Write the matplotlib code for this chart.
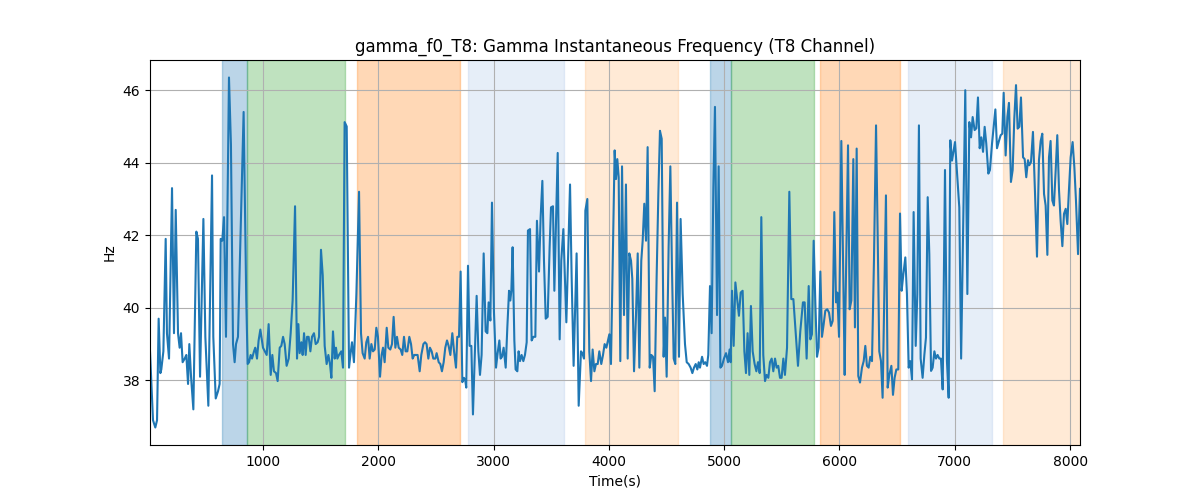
import matplotlib
matplotlib.use("Agg")
import matplotlib.pyplot as plt

# time (s) and gamma instantaneous frequency (Hz)
time_s = [
    20, 46, 66, 81, 95, 110, 118, 136, 156, 167, 185, 211, 228, 243, 263, 277, 289, 303, 321, 335,
    350, 361, 376, 396, 422, 436, 454, 483, 500, 526, 558, 569, 590, 610, 624, 633, 647, 662, 679, 705,
    722, 740, 754, 766, 783, 832, 855, 867, 879, 893, 905, 922, 933, 948, 962, 977, 1000,
    1032, 1049, 1067, 1081, 1095, 1113, 1127, 1145, 1159, 1174, 1188, 1205, 1223, 1240, 1257, 1278, 1295, 1307, 1318, 1333,
    1344, 1356, 1370, 1382, 1396, 1411, 1425, 1442, 1457, 1474, 1486, 1503, 1518, 1535, 1552, 1567, 1581, 1593, 1607, 1622,
    1633, 1645, 1659, 1679, 1694, 1708, 1726, 1746, 1760, 1772, 1789, 1810, 1833, 1850, 1864, 1882, 1896, 1911, 1925, 1940,
    1954, 1969, 1983, 1997, 2015,
    2029, 2041, 2055, 2073, 2087, 2104, 2119, 2133, 2148, 2162, 2177, 2194, 2208, 2223, 2237, 2252, 2269, 2284, 2298, 2312,
    2327, 2341, 2359, 2373, 2391, 2405, 2419, 2434, 2448, 2463, 2477, 2495, 2506, 2524, 2538, 2552, 2567, 2581, 2596, 2610,
    2625, 2642, 2657, 2674, 2685, 2700, 2714, 2729, 2743, 2755, 2763, 2778, 2792, 2807, 2821, 2836, 2853, 2868, 2882, 2896,
    2914, 2931, 2946, 2957, 2972, 2986, 3003, 3021,
    3035, 3050, 3061, 3073, 3087, 3105, 3119, 3134, 3145, 3154, 3165, 3180, 3191, 3206, 3217, 3229, 3243, 3258, 3272, 3287,
    3298, 3316, 3330, 3345, 3362, 3376, 3394, 3408, 3423, 3437, 3452, 3469, 3486, 3498, 3515, 3527, 3556, 3573, 3587, 3605,
    3631, 3663, 3677, 3694, 3720, 3738, 3758, 3770, 3784, 3796, 3813, 3830, 3845, 3859, 3874, 3888, 3903, 3917, 3934, 3949,
    3963, 3978, 3992, 4004, 4018,
    4050, 4062, 4073, 4085, 4099, 4114, 4131, 4148, 4163, 4177, 4192, 4203, 4218, 4235, 4250, 4264, 4281, 4293, 4307, 4322,
    4336, 4354, 4368, 4383, 4397, 4414, 4429, 4443, 4458, 4475, 4487, 4501, 4518, 4533, 4547, 4562, 4576, 4591, 4608, 4622,
    4640, 4660, 4675, 4692, 4709, 4724, 4738, 4753, 4767, 4779, 4790, 4808, 4822, 4836, 4851, 4862, 4877, 4891, 4906, 4920,
    4938, 4952, 4967, 4981, 4998, 5016, 5033, 5047, 5056,
    5068, 5082, 5097, 5114, 5128, 5143, 5160, 5175, 5189, 5203, 5218, 5232, 5247, 5264, 5279, 5293, 5308, 5322, 5339, 5354,
    5368, 5383, 5397, 5412, 5426, 5441, 5455, 5469, 5484, 5498, 5513, 5527, 5545, 5565, 5582, 5600, 5617, 5640, 5660, 5683,
    5698, 5715, 5733, 5747, 5761, 5776, 5790, 5805, 5819, 5834, 5848, 5863, 5877, 5894, 5909, 5926, 5941, 5955, 5970, 5981,
    5996, 6016, 6030, 6045,
    6051, 6074, 6088, 6103, 6120, 6134, 6149, 6163, 6178, 6195, 6210, 6224, 6238, 6253, 6267, 6282, 6299, 6317, 6331, 6345,
    6360, 6374, 6389, 6403, 6418, 6432, 6450, 6464, 6478, 6493, 6510, 6525, 6539, 6554, 6571, 6585, 6600, 6614, 6629, 6643,
    6661, 6675, 6689, 6704, 6721, 6736, 6750, 6765, 6779, 6794, 6808, 6823, 6837, 6851, 6866, 6880, 6895, 6915, 6932, 6947,
    6961, 6976, 7002, 7022, 7039, 7055,
    7091, 7109, 7126, 7141, 7155, 7172, 7187, 7201, 7216, 7230, 7245, 7259, 7273, 7291, 7305, 7323, 7352, 7366, 7383, 7398,
    7412, 7424, 7441, 7456, 7470, 7487, 7502, 7516, 7531, 7545, 7560, 7574, 7592, 7606, 7620, 7635, 7646, 7661, 7678, 7696,
    7713, 7730, 7745, 7759, 7774, 7788, 7803, 7817, 7831, 7846, 7860, 7875, 7889, 7904, 7918, 7933, 7947, 7962, 7976, 7990,
    8005, 8022, 8037, 8051, 8069, 8086,
]
freq_hz = [
    38.8, 36.9, 36.7, 36.9, 39.7, 38.2, 38.3, 38.8, 41.9, 39.3, 38.6, 43.3, 39.3, 42.7, 39.3, 38.9, 39.3, 38.5, 38.6, 38.7,
    37.9, 39.0, 38.1, 37.2, 42.1, 41.9, 38.1, 42.45, 39.2, 37.3, 43.65, 39.2, 37.5, 37.7, 37.9, 41.9, 41.85, 42.5, 39.2, 46.35,
    44.5, 39.0, 38.5, 39.0, 39.2, 45.4, 40.2, 38.45, 38.5, 38.7, 38.6, 38.8, 38.9, 38.6, 39.1, 39.4, 38.9,
    38.7, 39.55, 38.15, 38.7, 38.25, 38.2, 37.98, 38.9, 38.95, 39.2, 39.0, 38.4, 38.6, 39.3, 40.2, 42.8, 38.6, 39.55, 38.75, 39.05,
    38.7, 39.3, 38.7, 39.2, 39.2, 38.8, 39.2, 39.3, 39.0, 39.05, 39.2, 41.6, 40.9, 38.95, 38.45, 38.7, 38.45, 38.07, 39.35, 38.6,
    38.9, 38.6, 38.7, 38.8, 38.35, 45.12, 45.0, 38.35, 38.75, 39.05, 38.5, 40.38, 43.2, 39.3, 38.75, 38.6, 39.05, 39.2, 38.6, 39.0,
    38.8, 38.85, 39.45, 39.2, 38.1,
    38.7, 38.9, 38.5, 39.45, 38.9, 38.85, 39.0, 39.75, 38.9, 39.2, 38.9, 38.85, 38.7, 39.2, 38.8, 38.8, 39.2, 39.0, 38.6, 38.7,
    38.7, 38.7, 38.25, 38.7, 39.0, 39.05, 39.0, 38.6, 38.9, 38.8, 38.6, 38.6, 38.75, 38.5, 38.45, 38.25, 38.5, 38.9, 39.1, 38.95,
    38.7, 39.3, 38.8, 38.35, 39.2, 39.2, 41.0, 37.95, 38.07, 37.98, 37.8, 41.16, 38.95, 38.95, 37.06, 38.6, 40.33, 38.8, 38.15, 38.7,
    41.5, 39.35, 39.3, 40.15, 39.65, 42.9, 39.9, 38.35,
    38.75, 39.1, 38.6, 38.65, 38.9, 38.35, 39.45, 40.47, 40.2, 40.47, 41.67, 39.1, 38.3, 38.25, 38.8, 38.53, 38.7, 38.53, 38.7, 39.05,
    42.13, 42.17, 39.1, 39.2, 39.2, 42.4, 41.0, 42.5, 43.5, 41.3, 39.7, 39.75, 41.67, 42.77, 42.8, 40.47, 44.27, 39.13, 41.3, 42.17,
    39.6, 43.4, 40.84, 38.4, 41.5, 37.3, 38.8, 38.75, 38.6, 42.68, 43.0, 38.8, 37.98, 38.85, 38.25, 38.45, 38.45, 38.8, 38.45, 38.7,
    39.0, 38.9, 39.1, 39.27, 38.45,
    44.34, 43.55, 44.1, 43.6, 38.53, 43.9, 39.8, 43.4, 38.6, 41.5, 41.3, 40.8, 38.25, 39.8, 41.5, 38.35, 41.3, 41.85, 42.87, 41.85,
    44.43, 38.35, 38.7, 38.65, 37.7, 40.84, 43.14, 44.88, 44.66, 38.65, 39.73, 38.1, 41.67, 43.9, 41.1, 38.6, 38.45, 42.9, 38.65, 42.45,
    40.38, 39.0, 38.5, 38.45, 38.35, 38.2, 38.35, 38.45, 38.3, 38.5, 38.35, 38.65, 38.45, 38.5, 38.4, 38.7, 40.6, 39.3, 43.3, 45.54,
    39.8, 43.9, 38.35, 38.4, 38.6, 38.75, 38.5, 38.85, 38.5,
    40.47, 38.95, 40.7, 40.2, 39.78, 40.42, 40.47, 38.8, 38.2, 39.3, 38.15, 40.05, 38.8, 38.45, 38.25, 38.5, 38.2, 42.5, 38.7, 37.98,
    38.15, 38.07, 38.5, 38.6, 38.25, 38.6, 38.35, 38.4, 38.07, 38.07, 38.6, 38.15, 38.9, 43.2, 40.24, 40.24, 39.45, 38.4, 39.35, 40.15,
    40.15, 38.6, 40.6, 39.13, 39.27, 41.85, 40.2, 38.65, 38.9, 41.0, 39.2, 39.55, 39.92, 39.96, 39.87, 39.5, 39.64, 42.64, 40.15, 40.42,
    39.2, 44.6, 41.5, 38.15,
    39.8, 44.48, 39.96, 40.2, 44.1, 39.46, 44.39, 38.12, 37.94, 38.35, 38.53, 38.95, 38.4, 38.35, 38.65, 38.53, 41.3, 45.03, 42.04, 38.8,
    38.53, 37.52, 40.38, 43.1, 37.8, 38.15, 38.4, 37.6, 38.07, 38.3, 38.3, 42.6, 40.47, 40.93, 41.39, 40.38, 38.35, 38.53, 38.03, 42.64,
    38.95, 40.38, 45.03, 38.6, 38.07, 38.7, 39.18, 43.05, 41.48, 38.26, 38.35, 38.8, 38.6, 38.7, 38.6, 38.6, 37.75, 43.8, 38.53, 37.52,
    44.62, 44.06, 44.57, 43.6, 42.77, 38.6,
    46.0, 40.38, 45.12, 44.7, 45.26, 44.9, 44.95, 45.8, 44.4, 44.7, 44.3, 44.99, 44.53, 43.7, 43.8, 44.53, 45.47, 44.4, 44.6, 44.76,
    44.8, 45.93, 44.2, 45.26, 45.65, 43.47, 43.8, 45.21, 46.14, 44.94, 44.99, 45.8, 44.15, 44.1, 43.6, 44.07, 43.93, 44.02, 44.85, 43.14,
    41.41, 44.07, 44.6, 44.8, 43.14, 42.82, 41.46, 44.15, 44.6, 42.96, 42.82, 43.79, 44.76, 43.24, 42.4, 41.7, 42.59, 42.73, 42.31, 43.24,
    44.15, 44.57, 43.88, 42.96, 41.48, 43.28,
]

# shaded phases: start, end, colour
span_start = [644, 861, 1814, 2778, 3792, 4876, 5058, 5830, 6594, 7417]
span_end = [861, 1711, 2709, 3611, 4599, 5058, 5778, 6524, 7322, 8086]
span_color = ["#1f77b4", "#2ca02c", "#ff7f0e", "#aec7e8", "#ffbb78",
              "#1f77b4", "#2ca02c", "#ff7f0e", "#aec7e8", "#ffbb78"]

fig, ax = plt.subplots(figsize=(12, 5), dpi=100)

for s, e, c in zip(span_start, span_end, span_color):
    ax.axvspan(s, e, color=c, alpha=0.3)

ax.plot(time_s, freq_hz, color="#1f77b4", linewidth=1.5)
ax.margins(x=0)
ax.grid(True)
ax.set_title("gamma_f0_T8: Gamma Instantaneous Frequency (T8 Channel)")
ax.set_xlabel("Time(s)")
ax.set_ylabel("Hz")

fig.savefig("out.png")
